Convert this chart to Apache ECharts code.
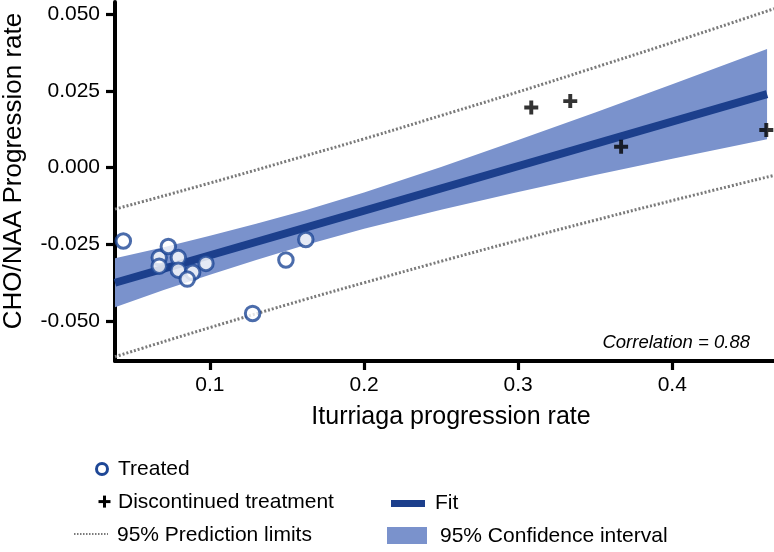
<!DOCTYPE html>
<html>
<head>
<meta charset="utf-8">
<script src="https://cdn.jsdelivr.net/npm/echarts@6/dist/echarts.min.js"></script>
<style>
html,body{margin:0;padding:0;background:#fff;}
#chart{width:774px;height:552px;}
</style>
</head>
<body>
<div id="chart"></div>
<script>
// ---- data ----
var treatedX = [0.0438, 0.0671, 0.0730, 0.0671, 0.0795, 0.0795, 0.0888, 0.0853, 0.0974, 0.1493, 0.1622, 0.1277];
var treatedY = [-0.0239, -0.0293, -0.0257, -0.0321, -0.0293, -0.0334, -0.0341, -0.0363, -0.0312, -0.0301, -0.0234, -0.0475];
var discX = [0.3085, 0.3338, 0.3668, 0.4610];
var discY = [0.0196, 0.0217, 0.0068, 0.0123];
var fitX = [0.0384, 0.4615];
var fitY = [-0.0375, 0.0240];
var ciX = [0.0384, 0.07, 0.1, 0.13, 0.162, 0.2, 0.25, 0.3, 0.35, 0.4, 0.4615];
var ciUpper = [-0.0295, -0.0259, -0.0222, -0.0183, -0.0139, -0.0081, 0.0002, 0.0090, 0.0180, 0.0272, 0.0387];
var ciLower = [-0.0455, -0.0399, -0.0349, -0.0301, -0.0252, -0.0199, -0.0137, -0.0079, -0.0024, 0.0029, 0.0093];
var predX = [0.0384, 0.1, 0.162, 0.2, 0.25, 0.3, 0.35, 0.4, 0.466];
var predUpper = [-0.0135, -0.0050, 0.0039, 0.0094, 0.0170, 0.0247, 0.0327, 0.0408, 0.0518];
var predLower = [-0.0616, -0.0521, -0.0429, -0.0375, -0.0305, -0.0237, -0.0171, -0.0107, -0.0025];
var xTicks = [0.1, 0.2, 0.3, 0.4];
var yTicks = [-0.05, -0.025, 0, 0.025, 0.05];
var correlationText = 'Correlation = 0.88';

function zip(a, b) { return a.map(function (v, i) { return [v, b[i]]; }); }

var FONT = '"Liberation Sans", Arial, sans-serif';
var FIT_COLOR = '#1c3f8c';
var BAND_COLOR = '#7a92cc';
var CIRCLE_COLOR = '#1e4796';
var DOT_COLOR = '#7a7a7a';
var PLUS_PATH = 'path://M3.6,0h2.8v3.6h3.6v2.8h-3.6v3.6h-2.8v-3.6h-3.6v-2.8h3.6z';

var chart = echarts.init(document.getElementById('chart'), null, {renderer: 'canvas'});

var option = {
  backgroundColor: '#fff',
  animation: false,
  grid: {left: 115, top: 2, right: 0, bottom: 191, containLabel: false},
  xAxis: {
    type: 'value', min: 0.0384, max: 0.466,
    splitLine: {show: false},
    axisLine: {show: true, onZero: false, lineStyle: {color: '#000', width: 4}},
    axisTick: {show: true, customValues: xTicks, length: 9, lineStyle: {color: '#000', width: 3.2}},
    axisLabel: {customValues: xTicks, margin: 14, color: '#000', fontSize: 21, fontFamily: FONT,
      formatter: function (v) { return v.toFixed(1); }}
  },
  yAxis: {
    type: 'value', min: -0.063, max: 0.054,
    splitLine: {show: false},
    axisLine: {show: true, onZero: false, lineStyle: {color: '#000', width: 4}},
    axisTick: {show: true, customValues: yTicks, length: 9, lineStyle: {color: '#000', width: 3.2}},
    axisLabel: {customValues: yTicks, margin: 15, color: '#000', fontSize: 21, fontFamily: FONT,
      formatter: function (v) { return v.toFixed(3); }}
  },
  series: [
    {
      name: '95% Confidence interval', type: 'custom', z: 1, silent: true, clip: true,
      data: [[0.2, 0]],
      renderItem: function (params, api) {
        var pts = [];
        for (var i = 0; i < ciX.length; i++) pts.push(api.coord([ciX[i], ciUpper[i]]));
        for (var j = ciX.length - 1; j >= 0; j--) pts.push(api.coord([ciX[j], ciLower[j]]));
        return {type: 'polygon', shape: {points: pts, smooth: 0}, style: {fill: BAND_COLOR}};
      }
    },
    {
      name: '95% Prediction limits', type: 'line', z: 2, data: zip(predX, predUpper),
      symbol: 'none', smooth: true, lineStyle: {color: DOT_COLOR, width: 3, type: [2, 2]}
    },
    {
      name: '95% Prediction limits lower', type: 'line', z: 2, data: zip(predX, predLower),
      symbol: 'none', smooth: true, lineStyle: {color: DOT_COLOR, width: 3, type: [2, 2]}
    },
    {
      name: 'Fit', type: 'line', z: 3, data: zip(fitX, fitY), symbol: 'none',
      lineStyle: {color: FIT_COLOR, width: 8, cap: 'butt'}
    },
    {
      name: 'Treated', type: 'scatter', z: 5, data: zip(treatedX, treatedY),
      symbol: 'circle', symbolSize: 14.5,
      itemStyle: {color: '#fff', borderColor: CIRCLE_COLOR, borderWidth: 3}
    },
    {
      name: 'Discontinued treatment', type: 'scatter', z: 5, data: zip(discX, discY),
      symbol: PLUS_PATH, symbolSize: 14, itemStyle: {color: '#000'}
    }
  ],
  graphic: [
    {type: 'text', x: 451, y: 417, style: {text: 'Iturriaga progression rate', fontSize: 25, fontFamily: FONT, fill: '#000', align: 'center', verticalAlign: 'middle'}},
    {type: 'text', x: 14, y: 171, rotation: Math.PI / 2, style: {text: 'CHO/NAA Progression rate', fontSize: 26, fontFamily: FONT, fill: '#000', align: 'center', verticalAlign: 'middle'}},
    {type: 'text', x: 750, y: 343, style: {text: correlationText, fontSize: 18.5, fontStyle: 'italic', fontFamily: FONT, fill: '#000', align: 'right', verticalAlign: 'middle'}},
    // legend
    {type: 'circle', shape: {cx: 102, cy: 469, r: 5.5}, style: {fill: '#fff', stroke: CIRCLE_COLOR, lineWidth: 3}},
    {type: 'text', x: 118, y: 469, style: {text: 'Treated', fontSize: 21, fontFamily: FONT, fill: '#000', verticalAlign: 'middle'}},
    {type: 'rect', shape: {x: 98.5, y: 500.1, width: 12, height: 3}, style: {fill: '#000'}},
    {type: 'rect', shape: {x: 103, y: 495.6, width: 3, height: 12}, style: {fill: '#000'}},
    {type: 'text', x: 118, y: 502, style: {text: 'Discontinued treatment', fontSize: 21, fontFamily: FONT, fill: '#000', verticalAlign: 'middle'}},
    {type: 'line', shape: {x1: 74, y1: 534, x2: 108, y2: 534}, style: {stroke: DOT_COLOR, lineWidth: 2, lineDash: [1.5, 1.5]}},
    {type: 'text', x: 117, y: 535, style: {text: '95% Prediction limits', fontSize: 21, fontFamily: FONT, fill: '#000', verticalAlign: 'middle'}},
    {type: 'rect', shape: {x: 391, y: 500, width: 34, height: 7}, style: {fill: FIT_COLOR}},
    {type: 'text', x: 435, y: 503, style: {text: 'Fit', fontSize: 21, fontFamily: FONT, fill: '#000', verticalAlign: 'middle'}},
    {type: 'rect', shape: {x: 387, y: 527, width: 40, height: 17}, style: {fill: BAND_COLOR}},
    {type: 'text', x: 440, y: 536, style: {text: '95% Confidence interval', fontSize: 21, fontFamily: FONT, fill: '#000', verticalAlign: 'middle'}}
  ]
};
chart.setOption(option);
</script>
</body>
</html>
